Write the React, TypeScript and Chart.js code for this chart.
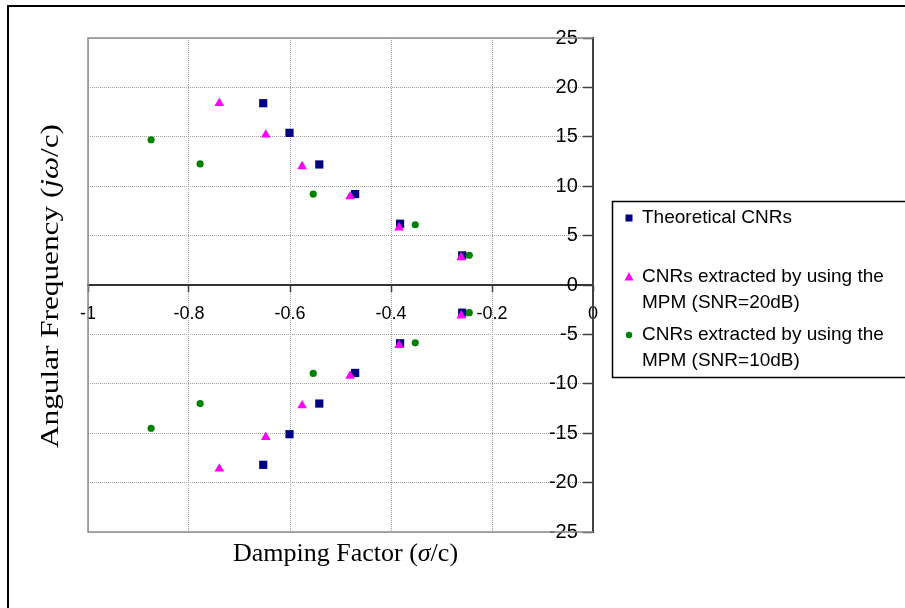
import React, { useEffect, useRef } from 'react';
import { Chart, registerables } from 'chart.js';

Chart.register(...registerables);

// ---- data ----
const theoreticalX = [-0.653, -0.601, -0.542, -0.471, -0.382, -0.259, -0.259, -0.382, -0.471, -0.542, -0.601, -0.653];
const theoreticalY = [18.4, 15.4, 12.2, 9.2, 6.2, 3.0, -2.8, -5.9, -8.9, -12.0, -15.1, -18.2];

const mpm20X = [-0.740, -0.648, -0.576, -0.481, -0.384, -0.261, -0.261, -0.384, -0.481, -0.576, -0.648, -0.740];
const mpm20Y = [18.4, 15.2, 12.0, 8.95, 5.8, 2.8, -3.1, -6.1, -9.2, -12.2, -15.4, -18.6];

const mpm10X = [-0.875, -0.778, -0.554, -0.352, -0.245, -0.245, -0.352, -0.554, -0.778, -0.875];
const mpm10Y = [14.7, 12.25, 9.2, 6.1, 3.0, -2.8, -5.85, -8.95, -12.0, -14.5];

const seriesLabels = [
  'Theoretical CNRs',
  'CNRs extracted by using the MPM (SNR=20dB)',
  'CNRs extracted by using the MPM (SNR=10dB)',
];

const xTicks = [-1, -0.8, -0.6, -0.4, -0.2, 0];
const yTicks = [-25, -20, -15, -10, -5, 0, 5, 10, 15, 20, 25];

const xTitleParts = [
  { t: 'Damping Factor (', i: false },
  { t: 'σ', i: true },
  { t: '/c)', i: false },
];
const yTitleParts = [
  { t: 'Angular Frequency (', i: false },
  { t: 'jω', i: true },
  { t: '/c)', i: false },
];

const toPoints = (xs: number[], ys: number[]) => xs.map((x, k) => ({ x, y: ys[k] }));
const fmt = (v: any) => String(+Number(v).toFixed(2));

const SANS = '"Liberation Sans", Arial, sans-serif';
const SERIF = '"Liberation Serif", "Times New Roman", serif';

function drawParts(ctx: CanvasRenderingContext2D, parts: { t: string; i: boolean }[], size: number) {
  const widths = parts.map((p) => {
    ctx.font = `${p.i ? 'italic ' : ''}${size}px ${SERIF}`;
    return ctx.measureText(p.t).width;
  });
  const total = widths.reduce((a, b) => a + b, 0);
  let x = -total / 2;
  parts.forEach((p, k) => {
    ctx.font = `${p.i ? 'italic ' : ''}${size}px ${SERIF}`;
    ctx.fillText(p.t, x, 0);
    x += widths[k];
  });
}

const framePlugin = {
  id: 'frame',
  beforeDraw(chart: any) {
    const ctx = chart.ctx;
    ctx.save();
    ctx.fillStyle = '#fff';
    ctx.fillRect(0, 0, chart.width, chart.height);
    ctx.strokeStyle = '#000';
    ctx.lineWidth = 2;
    ctx.strokeRect(8, 6, 1200, 1200);
    ctx.restore();
  },
  beforeDatasetsDraw(chart: any) {
    const { ctx, chartArea: a } = chart;
    ctx.save();
    ctx.strokeStyle = '#8c8c8c';
    ctx.lineWidth = 1.5;
    ctx.beginPath();
    ctx.moveTo(a.right, a.top);
    ctx.lineTo(a.left, a.top);
    ctx.lineTo(a.left, a.bottom);
    ctx.lineTo(a.right, a.bottom);
    ctx.stroke();
    ctx.restore();
  },
  afterDraw(chart: any) {
    const { ctx, chartArea: a } = chart;
    ctx.save();
    ctx.fillStyle = '#000';
    ctx.textBaseline = 'middle';
    ctx.textAlign = 'left';
    // x title
    ctx.save();
    ctx.translate((a.left + a.right) / 2 + 5, a.bottom + 22);
    drawParts(ctx, xTitleParts, 26);
    ctx.restore();
    // y title
    ctx.save();
    ctx.translate(51, (a.top + a.bottom) / 2 + 1);
    ctx.rotate(-Math.PI / 2);
    ctx.scale(1.25, 1);
    drawParts(ctx, yTitleParts, 25);
    ctx.restore();

    // legend
    const lx = 612, ly = 201;
    ctx.strokeStyle = '#000';
    ctx.lineWidth = 1.5;
    ctx.strokeRect(lx + 0.5, ly + 0.5, 600, 176);
    ctx.font = `19px ${SANS}`;
    const itemTops = [218, 277, 335];
    chart.data.datasets.forEach((ds: any, k: number) => {
      const words = String(ds.label).split(' ');
      const lines: string[] = [];
      let cur = '';
      words.forEach((w) => {
        const test = cur ? cur + ' ' + w : w;
        if (ctx.measureText(test).width > 252 && cur) {
          lines.push(cur);
          cur = w;
        } else cur = test;
      });
      if (cur) lines.push(cur);
      const cy = itemTops[k];
      ctx.fillStyle = ds.backgroundColor;
      const mx = 629;
      if (ds.pointStyle === 'rect') {
        ctx.fillRect(mx - 3.5, cy - 3.5, 7, 7);
      } else if (ds.pointStyle === 'triangle') {
        ctx.beginPath();
        ctx.moveTo(mx, cy - 5);
        ctx.lineTo(mx + 4.5, cy + 3.5);
        ctx.lineTo(mx - 4.5, cy + 3.5);
        ctx.closePath();
        ctx.fill();
      } else {
        ctx.beginPath();
        ctx.arc(mx, cy, 3.2, 0, Math.PI * 2);
        ctx.fill();
      }
      ctx.fillStyle = '#000';
      lines.forEach((ln, j) => ctx.fillText(ln, 642, cy + j * 25.5));
    });
    ctx.restore();
  },
};

export default function App() {
  const ref = useRef<HTMLCanvasElement | null>(null);
  useEffect(() => {
    if (!ref.current) return;
    const chart = new Chart(ref.current, {
      type: 'scatter',
      data: {
        datasets: [
          {
            label: seriesLabels[0],
            data: toPoints(theoreticalX, theoreticalY),
            pointStyle: 'rect',
            pointRadius: 5.8,
            pointBorderWidth: 0,
            backgroundColor: '#000080',
            borderColor: '#000080',
            order: 3,
          },
          {
            label: seriesLabels[1],
            data: toPoints(mpm20X, mpm20Y),
            pointStyle: 'triangle',
            pointRadius: 5.6,
            pointBorderWidth: 0,
            backgroundColor: '#ff00ff',
            borderColor: '#ff00ff',
            order: 2,
          },
          {
            label: seriesLabels[2],
            data: toPoints(mpm10X, mpm10Y),
            pointStyle: 'circle',
            pointRadius: 3.6,
            pointBorderWidth: 0,
            backgroundColor: '#008000',
            borderColor: '#008000',
            order: 1,
          },
        ] as any,
      },
      options: {
        animation: false,
        responsive: false,
        devicePixelRatio: 1,
        layout: { padding: { left: 88, top: 38, right: 312, bottom: 76 } },
        plugins: { legend: { display: false }, tooltip: { enabled: false }, title: { display: false } },
        scales: {
          x: {
            type: 'linear',
            position: { y: 0 } as any,
            min: -1,
            max: 0,
            afterBuildTicks: (s: any) => {
              s.ticks = xTicks.map((v) => ({ value: v }));
            },
            ticks: { color: '#000', font: { family: SANS, size: 18 }, padding: 12, maxRotation: 0, autoSkip: false, callback: fmt },
            grid: {
              color: '#a0a0a0',
              lineWidth: 1,
              drawTicks: true,
              tickLength: 6,
              tickColor: '#404040',
              tickWidth: 1.5,
              tickBorderDash: [],
            } as any,
            border: { display: true, color: '#333', width: 2, dash: [1, 1] as any },
          },
          y: {
            type: 'linear',
            position: { x: 0 } as any,
            min: -25,
            max: 25,
            afterBuildTicks: (s: any) => {
              s.ticks = yTicks.map((v) => ({ value: v }));
            },
            ticks: { display: false },
            grid: {
              color: '#a0a0a0',
              lineWidth: 1,
              drawTicks: true,
              tickLength: 9,
              tickColor: '#404040',
              tickWidth: 1.5,
              tickBorderDash: [],
            } as any,
            border: { display: true, color: '#404040', width: 2, dash: [1, 1] as any },
          },
          yLabels: {
            axis: 'y',
            type: 'linear',
            position: { x: -0.03 } as any,
            min: -25,
            max: 25,
            afterBuildTicks: (s: any) => {
              s.ticks = yTicks.map((v) => ({ value: v }));
            },
            ticks: { color: '#000', font: { family: SANS, size: 20 }, autoSkip: false, callback: fmt },
            grid: { display: false, drawTicks: false },
            border: { display: false },
          },
        },
      } as any,
      plugins: [framePlugin],
    });
    return () => chart.destroy();
  }, []);
  return (
    <div style={{ position: 'fixed', left: 0, top: 0, width: 905, height: 608, overflow: 'hidden', background: '#fff' }}>
      <canvas ref={ref} width={905} height={608} style={{ display: 'block', width: 905, height: 608 }} />
    </div>
  );
}
